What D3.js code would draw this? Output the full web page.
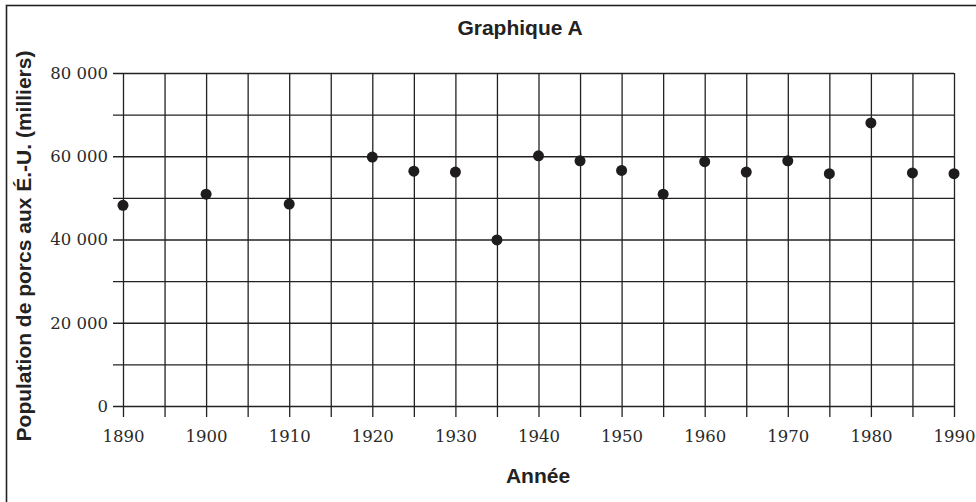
<!DOCTYPE html>
<meta charset="utf-8" />
<script src="https://d3js.org/d3.v7.min.js"></script>
<style>
  body { margin: 0; background: #fff; }
  .tick line { stroke: #222; stroke-width: 1.3; }
  .lbl { font-family: "Liberation Sans", Arial, sans-serif; font-weight: bold; font-size: 21px; fill: #222; }
</style>
<div id="chart"></div>
<script>
  // data
  const years = [1890, 1900, 1910, 1920, 1925, 1930, 1935, 1940, 1945, 1950,
                 1955, 1960, 1965, 1970, 1975, 1980, 1985, 1990];
  const pigs = [48200, 50900, 48500, 59800, 56400, 56200, 39900, 60100, 58900, 56600,
                50900, 58700, 56200, 58900, 55800, 68000, 56000, 55800];
  const xTicks = d3.range(1890, 1991, 5);
  const yTicks = d3.range(0, 80001, 10000);

  const W = 976, H = 502;
  const plotL = 123, plotR = 954, plotT = 73, plotB = 406;

  const svg = d3.select("#chart").append("svg")
    .attr("width", W).attr("height", H);

  // frame (only top and left edges show in the crop)
  svg.append("rect")
    .attr("x", 6.5).attr("y", 5.5)
    .attr("width", 1100).attr("height", 700)
    .attr("fill", "none").attr("stroke", "#222").attr("stroke-width", 1.6);

  const x = d3.scaleLinear().domain([1890, 1990]).range([plotL, plotR]);
  const y = d3.scaleLinear().domain([0, 80000]).range([plotB, plotT]);

  const fmt = d => d3.format(",")(d).replace(/,/g, " ");

  function serifTicks(g) {
    g.select(".domain").remove();
    g.attr("font-family", "DejaVu Serif").attr("font-size", 16.5);
    g.selectAll(".tick text").attr("fill", "#2a2a2a");
  }

  // horizontal grid + y labels
  const yAxis = d3.axisLeft(y)
    .tickValues(yTicks)
    .tickSize(-(plotR - (plotL - 10)))
    .tickPadding(5)
    .tickFormat(d => d % 20000 === 0 ? fmt(d) : "");
  svg.append("g")
    .attr("transform", "translate(" + (plotL - 10) + ",0)")
    .call(yAxis)
    .call(serifTicks);

  // vertical grid + x labels
  const xAxis = d3.axisBottom(x)
    .tickValues(xTicks)
    .tickSize(-(plotB + 11 - plotT))
    .tickPadding(13)
    .tickFormat(d => d % 10 === 0 ? d : "");
  svg.append("g")
    .attr("transform", "translate(0," + (plotB + 11) + ")")
    .call(xAxis)
    .call(serifTicks);

  // points
  svg.append("g").selectAll("circle")
    .data(years)
    .join("circle")
    .attr("cx", d => x(d))
    .attr("cy", (d, i) => y(pigs[i]))
    .attr("r", 5.5)
    .attr("fill", "#1e1c1d");

  // titles
  svg.append("text").attr("class", "lbl")
    .attr("x", 520).attr("y", 35)
    .attr("text-anchor", "middle")
    .text("Graphique A");

  svg.append("text").attr("class", "lbl")
    .attr("x", 538).attr("y", 483)
    .attr("text-anchor", "middle")
    .text("Année");

  svg.append("text").attr("class", "lbl")
    .attr("transform", "translate(31,246) rotate(-90)")
    .attr("text-anchor", "middle")
    .text("Population de porcs aux É.-U. (milliers)");
</script>
